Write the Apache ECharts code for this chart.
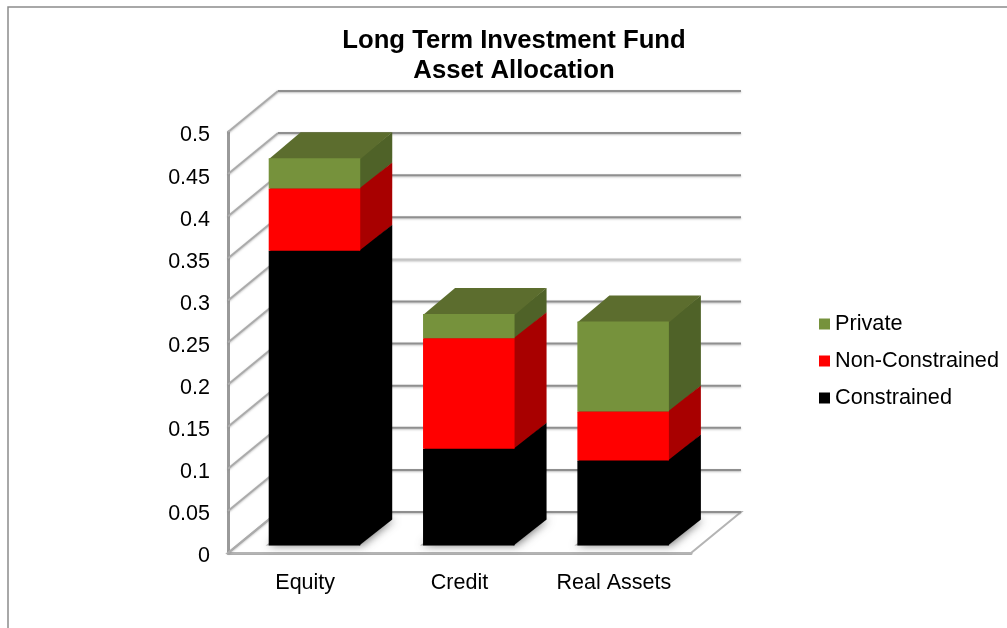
<!DOCTYPE html>
<html>
<head>
<meta charset="utf-8">
<style>html,body{margin:0;padding:0;background:#fff}#c{width:1007px;height:628px}</style>
<script src="https://cdn.jsdelivr.net/npm/echarts@6/dist/echarts.min.js"></script>
</head>
<body>
<div id="c"></div>
<script>
const categories = ['Equity', 'Credit', 'Real Assets'];
const constrained = [0.35, 0.115, 0.101];
const nonConstrained = [0.074, 0.131, 0.058];
const privateAlloc = [0.036, 0.029, 0.107];
const yTicks = [0, 0.05, 0.1, 0.15, 0.2, 0.25, 0.3, 0.35, 0.4, 0.45, 0.5];

const FONT = '"Liberation Sans", Arial, sans-serif';
const WALL = { dx: 50, dy: -41 };
const BAR = { shiftX: 9.3, shiftY: -7.5, dx: 32, dy: -26, ratio: 0.593 };
const GRID_COLOR = '#8f8f8f';
const DIAG_COLOR = '#ababab';

function stackRows(values, below) {
  return values.map((v, i) => [i, below[i], below[i] + v]);
}
const sum = (a, b) => a.map((v, i) => v + b[i]);
const rowsC = stackRows(constrained, [0, 0, 0]);
const rowsN = stackRows(nonConstrained, constrained);
const rowsP = stackRows(privateAlloc, sum(constrained, nonConstrained));

function poly(points, fill) {
  return { type: 'polygon', shape: { points }, style: { fill } };
}
function barRenderer(front, side, top) {
  return function (params, api) {
    const i = api.value(0);
    const a = api.coord([i, api.value(1)]);
    const b = api.coord([i, api.value(2)]);
    const w = api.size([1, 0])[0] * BAR.ratio;
    const x0 = a[0] - w / 2 + BAR.shiftX, x1 = x0 + w;
    const y0 = a[1] + BAR.shiftY, y1 = b[1] + BAR.shiftY;
    const dx = BAR.dx, dy = BAR.dy;
    return {
      type: 'group',
      children: [
        poly([[x1 - 1, y0], [x1 + dx, y0 + dy], [x1 + dx, y1 + dy], [x1 - 1, y1]], side),
        poly([[x0, y1 + 1], [x1, y1 + 1], [x1 + dx, y1 + dy], [x0 + dx, y1 + dy]], top),
        poly([[x0, y0], [x1, y0], [x1, y1], [x0, y1]], front)
      ]
    };
  };
}
function wallRenderer(params, api) {
  const cs = params.coordSys;
  const v = api.value(0);
  const y = api.coord([0, v])[1];
  const left = cs.x, right = cs.x + cs.width;
  const shadow = { shadowBlur: 2, shadowColor: 'rgba(130,130,130,0.5)', shadowOffsetY: 1 };
  return {
    type: 'group',
    children: [
      { type: 'line', shape: { x1: left, y1: y, x2: left + WALL.dx, y2: y + WALL.dy },
        style: { stroke: DIAG_COLOR, lineWidth: 2, ...shadow } },
      { type: 'line', shape: { x1: left + WALL.dx, y1: y + WALL.dy, x2: right + WALL.dx, y2: y + WALL.dy },
        style: { stroke: v === 0.3 ? '#c4c4c4' : GRID_COLOR, lineWidth: 2, ...shadow } }
    ]
  };
}
function floorRenderer(params, api) {
  const cs = params.coordSys;
  const y = api.coord([0, api.value(0)])[1];
  const left = cs.x, right = cs.x + cs.width;
  return {
    type: 'polygon',
    shape: { points: [[left, y], [right, y], [right + WALL.dx, y + WALL.dy], [left + WALL.dx, y + WALL.dy]] },
    style: { fill: '#fff', stroke: '#b4b4b4', lineWidth: 2 }
  };
}
function shadowRenderer(params, api) {
  const i = api.value(0);
  const a = api.coord([i, 0]);
  const w = api.size([1, 0])[0] * BAR.ratio;
  const x0 = a[0] - w / 2 + BAR.shiftX, x1 = x0 + w, y0 = a[1] + BAR.shiftY;
  return {
    type: 'polygon',
    shape: { points: [[x0 - 3, y0], [x1, y0], [x1 + BAR.dx, y0 + BAR.dy], [x0 + BAR.dx, y0 + BAR.dy]] },
    style: { fill: '#aaa', shadowBlur: 8, shadowColor: 'rgba(90,90,90,0.8)', shadowOffsetX: 2, shadowOffsetY: 0 }
  };
}

const chart = echarts.init(document.getElementById('c'), null, { renderer: 'canvas' });
chart.setOption({
  animation: false,
  backgroundColor: '#fff',
  textStyle: { fontFamily: FONT },
  title: {
    text: 'Long Term Investment Fund\nAsset Allocation',
    left: 509, top: 21, textAlign: 'center',
    textStyle: { fontFamily: FONT, fontSize: 25.7, fontWeight: 'bold', color: '#000', lineHeight: 30 }
  },
  legend: {
    orient: 'vertical', left: 814, top: 308,
    data: ['Private', 'Non-Constrained', 'Constrained'],
    icon: 'rect',
    itemWidth: 11, itemHeight: 11, itemGap: 15,
    selectedMode: false,
    textStyle: { fontFamily: FONT, fontSize: 21.7, color: '#000' }
  },
  grid: { left: 228, top: 132, width: 463, height: 421, containLabel: false },
  xAxis: {
    type: 'category', data: categories,
    axisLine: { lineStyle: { color: '#adadad', width: 3 } },
    axisTick: { show: false },
    axisLabel: { fontFamily: FONT, fontSize: 21.5, color: '#000', margin: 19 },
    splitLine: { show: false }
  },
  yAxis: {
    type: 'value', min: 0, max: 0.5, interval: 0.05,
    axisLine: { show: true, lineStyle: { color: '#9a9a9a', width: 3 } },
    axisTick: { show: false },
    axisLabel: { fontFamily: FONT, fontSize: 21.5, color: '#000', margin: 18, verticalAlign: 'top', lineHeight: 7 },
    splitLine: { show: false }
  },
  series: [
    { type: 'custom', name: 'floor', silent: true, clip: false, z: 1, renderItem: floorRenderer, data: [[yTicks[0]]], encode: { y: 0 } },
    { type: 'custom', name: 'walls', silent: true, clip: false, z: 2, renderItem: wallRenderer, data: yTicks.map(t => [t]), encode: { y: 0 } },
    { type: 'custom', name: 'barShadow', silent: true, clip: false, z: 3, renderItem: shadowRenderer, data: categories.map((c, i) => [i]), encode: { x: 0 } },
    { type: 'custom', name: 'Constrained', clip: false, z: 4, itemStyle: { color: '#000' },
      renderItem: barRenderer('#000000', '#000000', '#000000'), data: rowsC, encode: { x: 0, y: [1, 2] } },
    { type: 'custom', name: 'Non-Constrained', clip: false, z: 5, itemStyle: { color: '#ff0000' },
      renderItem: barRenderer('#ff0000', '#a80000', '#a80000'), data: rowsN, encode: { x: 0, y: [1, 2] } },
    { type: 'custom', name: 'Private', clip: false, z: 6, itemStyle: { color: '#76923c' },
      renderItem: barRenderer('#76923c', '#4f6228', '#5c6d2e'), data: rowsP, encode: { x: 0, y: [1, 2] } }
  ],
  graphic: [{
    type: 'polyline', silent: true, z: 0,
    shape: { points: [[8, 628], [8, 7], [1007, 7]] },
    style: { stroke: '#8c8c8c', lineWidth: 1.5, fill: 'none' }
  }]
});
</script>
</body>
</html>
